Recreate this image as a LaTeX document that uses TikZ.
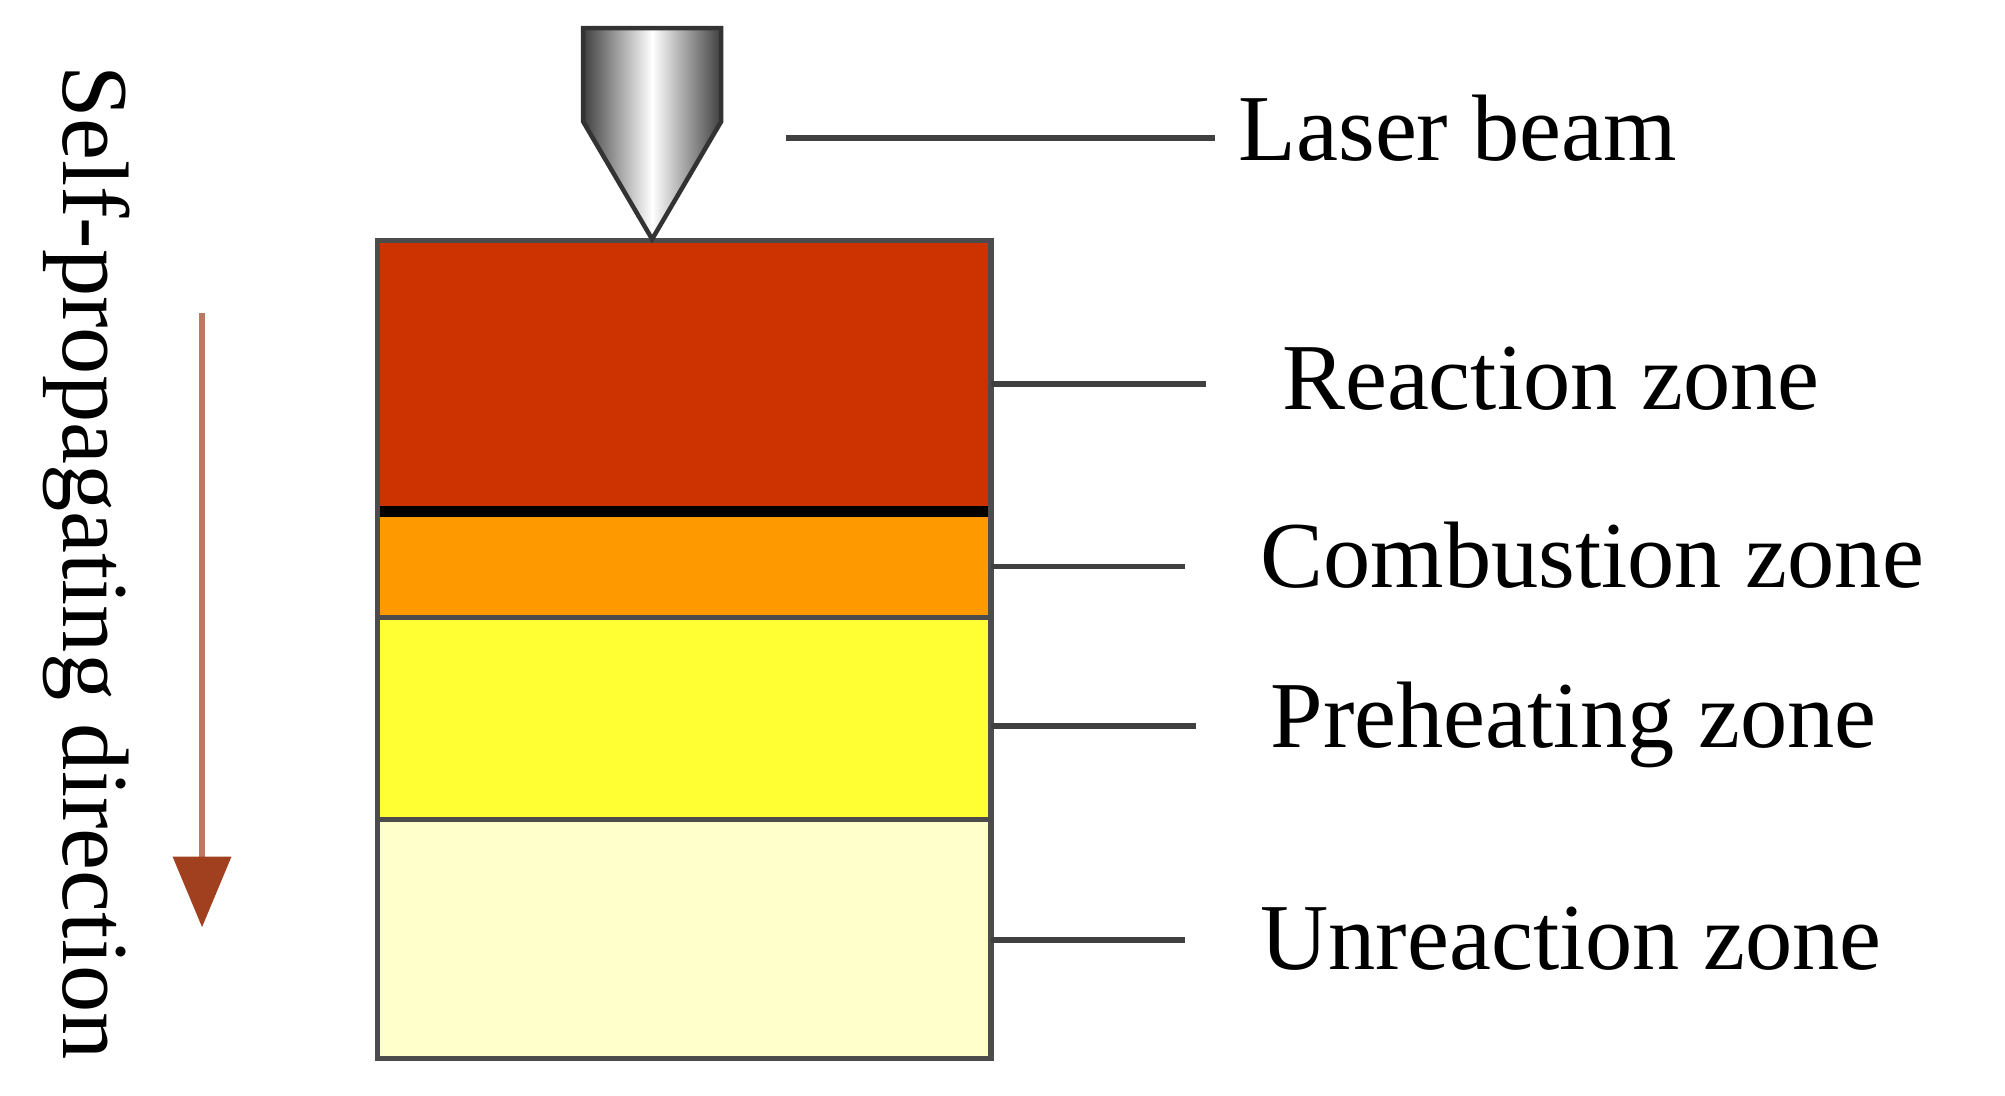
\documentclass[tikz,border=0pt]{standalone}
\usepackage{fontspec}
\setmainfont{Liberation Serif}
\usetikzlibrary{arrows.meta}
\definecolor{reac}{HTML}{CC3300}
\definecolor{comb}{HTML}{FF9900}
\definecolor{preh}{HTML}{FFFF33}
\definecolor{unre}{HTML}{FFFFCC}
\definecolor{arr}{HTML}{A0401F}
\tikzset{zone/.style={draw=black!70,line width=1.2pt},
lead/.style={draw=black!75,line width=1.3pt},
lab/.style={anchor=west,font=\fontsize{21}{24}\selectfont,inner sep=0pt}}
\begin{document}
\begin{tikzpicture}[x=0.01cm,y=-0.01cm]
\useasboundingbox (0,0) rectangle (1568,857);
% zones
\fill[unre] (295,641) rectangle (775,828);
\fill[preh] (295,483) rectangle (775,641);
\fill[comb] (295,400) rectangle (775,483);
\fill[reac] (295,188) rectangle (775,400);
\draw[zone] (295,483) -- (775,483) (295,641) -- (775,641);
\draw[black,line width=2.5pt] (295,400) -- (775,400);
\draw[zone] (295,188) rectangle (775,828);
% nozzle
\shade[left color=black!75,right color=black!75,middle color=white,draw=black!80,line width=1pt]
 (456,22) -- (564,22) -- (564,95) -- (510,187) -- (456,95) -- cycle;
% coordinates for leaders
\coordinate (n) at (615,108);
\node[lab] (lb) at (968,100) {Laser beam};
\node[lab] (rz) at (1002,296) {Reaction zone};
\node[lab] (cz) at (985,434) {Combustion zone};
\node[lab] (pz) at (993,567) {Preheating zone};
\node[lab] (uz) at (985,734) {Unreaction zone};
\coordinate (r) at (775,300);\coordinate (r2) at (943,300);
\coordinate (c) at (775,443);\coordinate (c2) at (927,443);
\coordinate (p) at (775,568);\coordinate (p2) at (935,568);
\coordinate (u) at (775,735);\coordinate (u2) at (927,735);
\coordinate (n2) at (950,108);
\draw[lead] (n) -- (n2) (r) -- (r2) (c) -- (c2) (p) -- (p2) (u) -- (u2);
% arrow
\coordinate (a1) at (158,245);\coordinate (a2) at (158,690);
\draw[arr!70,line width=1.5pt] (a1) -- (a2);
\fill[arr] (135,670) -- (181,670) -- (158,725) -- cycle;
\node[rotate=-90,font=\fontsize{21}{24}\selectfont,inner sep=0pt] (sp) at (68,440) {Self-propagating direction};
\end{tikzpicture}
\end{document}
